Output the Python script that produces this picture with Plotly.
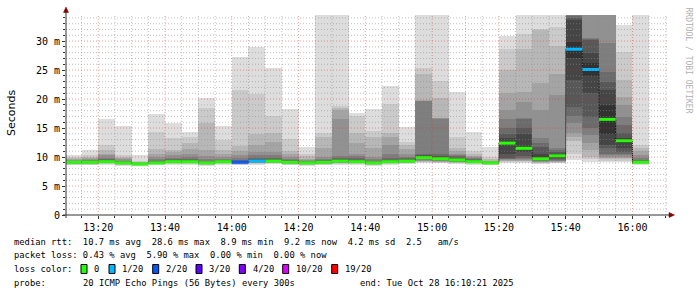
import plotly.graph_objects as go
import pandas as pd

# ---------------- data ----------------
bar_start = pd.date_range("2025-10-28 13:10:00", periods=35, freq="5min")

# 20 sorted ping RTTs (ms) per 5-minute step
pings = [
    [8.6,8.7,8.8,8.85,8.9,8.95,9.0,9.05,9.1,9.1,9.15,9.2,9.25,9.3,9.4,9.5,9.6,9.8,10.0,10.3],
    [8.6,8.7,8.8,8.85,8.9,8.95,9.0,9.05,9.1,9.1,9.15,9.2,9.3,9.4,9.5,9.6,9.8,10.0,10.4,11.2],
    [8.7,8.8,8.9,8.95,9.0,9.05,9.1,9.15,9.2,9.2,9.25,9.3,9.4,9.6,9.9,10.3,10.6,11.2,12.1,16.6],
    [8.5,8.6,8.7,8.75,8.8,8.85,8.9,8.95,9.0,9.0,9.05,9.1,9.2,9.3,9.4,9.6,9.8,10.0,10.3,15.3],
    [8.4,8.5,8.55,8.6,8.65,8.7,8.72,8.75,8.8,8.8,8.85,8.9,8.9,8.95,9.0,9.05,9.1,9.2,9.3,10.4],
    [8.6,8.7,8.75,8.8,8.85,8.9,8.95,9.0,9.0,9.0,9.05,9.1,9.2,9.4,9.7,10.0,10.6,11.4,14.3,17.4],
    [8.7,8.8,8.9,8.95,9.0,9.05,9.1,9.15,9.2,9.2,9.25,9.3,9.4,9.6,9.9,10.3,10.8,11.2,13.2,15.9],
    [8.7,8.8,8.9,8.95,9.0,9.05,9.1,9.15,9.2,9.2,9.25,9.35,9.5,9.7,10.0,10.5,11.4,12.5,13.5,14.3],
    [8.5,8.6,8.7,8.75,8.8,8.85,8.9,8.95,9.0,9.0,9.05,9.1,9.2,9.4,9.7,10.2,11.2,15.9,18.5,20.1],
    [8.7,8.8,8.9,8.95,9.0,9.05,9.1,9.15,9.2,9.2,9.25,9.3,9.4,9.5,9.7,10.0,10.5,11.2,12.9,15.3],
    [8.6,8.7,8.8,8.85,8.9,8.95,9.0,9.05,9.1,9.1,9.15,9.2,9.3,9.5,9.8,10.3,11.0,11.95,21.6,27.3],
    [8.7,8.8,8.9,9.0,9.05,9.1,9.15,9.2,9.25,9.3,9.35,9.45,9.6,9.9,10.3,10.8,12.1,14.0,20.9,29.0],
    [8.8,8.9,9.0,9.05,9.1,9.15,9.2,9.25,9.3,9.3,9.35,9.45,9.6,9.9,10.3,10.8,12.6,14.1,17.1,25.3],
    [8.6,8.7,8.8,8.85,8.9,8.95,9.0,9.05,9.1,9.1,9.15,9.2,9.3,9.45,9.65,10.05,10.5,11.1,13.1,18.3],
    [8.5,8.6,8.7,8.75,8.8,8.85,8.9,8.95,9.0,9.0,9.05,9.1,9.15,9.2,9.3,9.45,9.7,10.1,10.6,11.8],
    [8.6,8.7,8.8,8.85,8.9,8.95,9.0,9.05,9.1,9.1,9.15,9.2,9.3,9.45,9.65,10.05,11.5,13.5,14.1,36.0],
    [8.7,8.8,8.9,9.0,9.05,9.1,9.15,9.2,9.25,9.3,9.35,9.45,9.6,9.8,10.2,16.55,18.1,18.5,18.8,38.0],
    [8.7,8.8,8.9,8.95,9.0,9.05,9.1,9.15,9.2,9.2,9.25,9.35,9.5,9.8,10.2,10.6,12.5,14.2,17.1,17.6],
    [8.5,8.6,8.7,8.75,8.8,8.85,8.9,8.95,9.0,9.0,9.05,9.1,9.2,9.4,9.7,10.05,11.5,13.5,14.5,18.3],
    [8.7,8.8,8.9,8.95,9.0,9.05,9.1,9.15,9.2,9.2,9.25,9.35,9.5,9.8,10.6,12.1,13.5,14.2,19.1,22.2],
    [8.8,8.9,9.0,9.05,9.1,9.15,9.2,9.25,9.3,9.3,9.35,9.45,9.6,9.8,10.05,10.6,11.3,12.1,12.6,15.2],
    [9.0,9.1,9.2,9.3,9.4,9.5,9.6,9.65,9.7,9.8,10.0,10.1,10.3,10.6,19.6,19.7,19.8,24.4,25.3,40.0],
    [8.9,9.0,9.1,9.2,9.3,9.4,9.5,9.55,9.6,9.65,9.75,9.9,10.2,10.5,16.6,16.7,16.8,20.1,23.2,40.0],
    [8.8,8.9,9.0,9.1,9.15,9.2,9.3,9.35,9.4,9.45,9.55,9.7,9.9,10.2,10.4,10.6,11.0,11.5,13.5,21.2],
    [8.7,8.8,8.9,8.95,9.0,9.05,9.1,9.15,9.2,9.2,9.25,9.35,9.5,9.65,9.8,10.0,10.2,10.6,11.1,14.4],
    [8.6,8.7,8.75,8.8,8.85,8.9,8.95,8.98,9.0,9.0,9.02,9.05,9.1,9.15,9.2,9.3,9.4,9.6,10.0,11.8],
    [8.9,9.1,9.3,9.4,9.5,9.6,9.7,9.9,10.5,12.2,12.6,13.3,14.0,15.0,16.5,18.1,21.0,25.0,28.6,30.9],
    [8.9,9.1,9.3,9.4,9.5,9.6,9.8,10.2,10.8,11.3,11.7,14.0,15.0,16.5,16.7,19.5,21.3,28.7,31.3,40.0],
    [8.8,8.9,9.0,9.1,9.2,9.3,9.4,9.5,9.6,9.65,9.75,10.5,11.7,12.5,13.2,18.1,22.7,31.9,32.0,40.0],
    [8.9,9.0,9.1,9.2,9.3,9.4,9.5,9.7,9.9,10.1,10.3,10.6,10.9,11.2,11.5,20.7,24.4,29.1,32.5,40.0],
    [9.5,10.6,12.7,13.4,14.1,15.8,17.0,18.7,23.3,27.0,29.9,33.7,34.0,34.3,36.0,40.0,45.0,50.0,60.0,80.0],
    [9.2,9.6,10.05,11.2,12.4,13.8,15.0,16.9,21.0,24.0,26.2,28.0,30.2,30.3,30.5,38.0,42.0,48.0,55.0,70.0],
    [9.2,9.4,9.6,9.8,10.0,10.3,10.5,11.5,12.1,14.0,19.0,21.5,23.0,24.7,29.6,38.0,42.0,48.0,55.0,70.0],
    [9.2,9.4,9.6,9.8,10.0,10.3,10.6,10.9,11.5,12.5,13.1,13.3,14.1,15.5,16.9,19.0,20.4,23.3,28.2,32.8],
    [8.7,8.8,8.9,8.95,9.0,9.05,9.1,9.1,9.1,9.1,9.15,9.2,9.3,9.5,9.8,10.3,11.0,11.6,12.1,38.0],
]

median_ms = [9.1, 9.1, 9.2, 9.0, 8.8, 9.0, 9.2, 9.2, 9.0, 9.2,
             9.1, 9.3, 9.3, 9.1, 9.0, 9.1, 9.3, 9.2, 9.0, 9.2,
             9.3, 9.9, 9.7, 9.5, 9.2, 9.0, 12.4, 11.5, 9.7, 10.2,
             28.6, 25.1, 16.5, 12.8, 9.1]

loss = [0, 0, 0, 0, 0, 0, 0, 0, 0, 0,
        2, 1, 0, 0, 0, 0, 0, 0, 0, 0,
        0, 0, 0, 0, 0, 0, 0, 0, 0, 0,
        1, 1, 0, 0, 0]

loss_levels = [0, 1, 2, 3, 4, 10, 19]
loss_labels = ["0", "1/20", "2/20", "3/20", "4/20", "10/20", "19/20"]
loss_colors = ["#26ff00", "#00b8ff", "#0059ff", "#5e00ff", "#7e00ff", "#dd00ff", "#ff0000"]

y_tick_vals = [0, 5, 10, 15, 20, 25, 30]
y_tick_text = ["0", "5 m", "10 m", "15 m", "20 m", "25 m", "30 m"]

stats_lines = [
    "median rtt:  10.7 ms avg  28.6 ms max  8.9 ms min  9.2 ms now  4.2 ms sd  2.5   am/s",
    "packet loss: 0.43 % avg  5.90 % max  0.00 % min  0.00 % now",
]
probe_text = "20 ICMP Echo Pings (56 Bytes) every 300s"
end_text = "end: Tue Oct 28 16:10:21 2025"

# ---------------- geometry ----------------
W, H = 697, 297
L, R, T, B = 66, 667, 15, 215
x_start = pd.Timestamp("2025-10-28 13:10:21")
x_end = pd.Timestamp("2025-10-28 16:10:21")
Y_MAX = 34.5
step = pd.Timedelta(minutes=5)
step_ms = 300000


def px(x):
    return (x - L) / (R - L)


def py(y):
    return (B - y) / (B - T)


fig = go.Figure()

centers = [t + step / 2 for t in bar_start]
half = 10
for k in range(half):
    g = int(190 / half * (half - (k + 1))) + 50
    col = f"rgb({g},{g},{g})"
    lo = [p[k] for p in pings]
    hi = [p[19 - k] for p in pings]
    fig.add_trace(go.Bar(
        x=centers, base=lo, y=[h - l for h, l in zip(hi, lo)],
        width=step_ms, marker=dict(color=col, line=dict(width=0)),
        showlegend=False, hoverinfo="skip",
    ))

# thin step line joining medians
sx, sy = [], []
for t, m in zip(bar_start, median_ms):
    sx += [t, t + step]
    sy += [m, m]
fig.add_trace(go.Scatter(x=sx, y=sy, mode="lines",
                         line=dict(color="#000000", width=1, dash="1px,1px"),
                         showlegend=False, hoverinfo="skip"))

# coloured median segments by loss
for lvl, col in zip(loss_levels, loss_colors):
    xs, ys = [], []
    for t, m, ls in zip(bar_start, median_ms, loss):
        if ls == lvl:
            xs += [t, t + step, None]
            ys += [m, m, None]
    if xs:
        fig.add_trace(go.Scatter(x=xs, y=ys, mode="lines",
                                 line=dict(color=col, width=3),
                                 showlegend=False, hoverinfo="skip"))

shapes = []
minor_col = "rgba(140,140,140,0.55)"
major_col = "rgba(220,40,40,0.45)"
# vertical grid
t = pd.Timestamp("2025-10-28 13:15:00")
while t <= x_end:
    major = (t.minute % 20 == 0)
    shapes.append(dict(type="line", xref="x", yref="paper", x0=t, x1=t, y0=0, y1=1,
                       line=dict(color=major_col if major else minor_col, width=1, dash="1px,2px"),
                       layer="above"))
    t += step
# horizontal grid
for v in range(1, 35):
    major = (v % 5 == 0)
    shapes.append(dict(type="line", xref="paper", yref="y", x0=0, x1=1, y0=v, y1=v,
                       line=dict(color=major_col if major else minor_col, width=1, dash="1px,2px"),
                       layer="above"))

axis_col = "#333333"
arrow_col = "#7f0000"
# axis lines
shapes.append(dict(type="line", xref="paper", yref="paper", x0=px(63), x1=px(670), y0=0, y1=0,
                   line=dict(color=axis_col, width=1), layer="above"))
shapes.append(dict(type="line", xref="paper", yref="paper", x0=0, x1=0, y0=py(218), y1=py(10),
                   line=dict(color=axis_col, width=1), layer="above"))
# arrows
shapes.append(dict(type="path", xref="paper", yref="paper",
                   path=f"M {px(669)} {py(212.5)} L {px(674.5)} {py(215)} L {px(669)} {py(217.5)} Z",
                   fillcolor=arrow_col, line=dict(color=arrow_col, width=0.5), layer="above"))
shapes.append(dict(type="path", xref="paper", yref="paper",
                   path=f"M {px(63.5)} {py(12.5)} L {px(66)} {py(7)} L {px(68.5)} {py(12.5)} Z",
                   fillcolor=arrow_col, line=dict(color=arrow_col, width=0.5), layer="above"))

annotations = []
mono = "DejaVu Sans Mono"
NB = "\u00a0"


def txt(s, x, y, size=8.8, color="#000000", family=mono, angle=0, xanchor="left"):
    annotations.append(dict(text=s.replace(" ", NB), xref="paper", yref="paper",
                            x=px(x), y=py(y), xanchor=xanchor, yanchor="middle",
                            showarrow=False, textangle=angle,
                            font=dict(family=family, size=size, color=color)))


txt(stats_lines[0], 12.3, 241.7)
txt(stats_lines[1], 12.3, 255.3)
txt("loss color:", 12.3, 269)
box_x = [81, 109, 152.7, 196, 239.3, 282.7, 331.7]
for bx, lab, col in zip(box_x, loss_labels, loss_colors):
    shapes.append(dict(type="rect", xref="paper", yref="paper",
                       x0=px(bx), x1=px(bx + 6), y0=py(273.5), y1=py(264.5),
                       fillcolor=col, line=dict(color="#000000", width=1)))
    txt(lab, bx + 11.3, 269)
txt("probe:", 12.3, 282.7)
txt(probe_text, 80.7, 282.7)
txt(end_text, 358, 282.7)

# y-axis title
annotations.append(dict(text="Seconds", xref="paper", yref="paper", x=px(11.5), y=py(113.5),
                        xanchor="center", yanchor="middle", showarrow=False, textangle=-90,
                        font=dict(family="DejaVu Sans", size=11, color="#000000")))
# watermark
annotations.append(dict(text="RRDTOOL / TOBI OETIKER", xref="paper", yref="paper",
                        x=px(687.5), y=py(60), xanchor="center", yanchor="middle",
                        showarrow=False, textangle=90,
                        font=dict(family=mono, size=8, color="#b0b0b0")))

fig.update_layout(
    width=W, height=H, autosize=False,
    margin=dict(l=L, r=W - R, t=T, b=H - B, pad=0),
    paper_bgcolor="#ffffff", plot_bgcolor="#ffffff",
    barmode="overlay", bargap=0, showlegend=False,
    shapes=shapes, annotations=annotations,
    xaxis=dict(type="date", range=[x_start, x_end], showgrid=False, zeroline=False,
               showline=False, tickformat="%H:%M", tick0="2025-10-28 13:00:00",
               dtick=20 * 60 * 1000, ticks="outside", ticklen=3, tickcolor=axis_col,
               tickfont=dict(family=mono, size=10, color="#000000"),
               minor=dict(dtick=5 * 60 * 1000, ticks="outside", ticklen=2, tickcolor=axis_col,
                          showgrid=False)),
    yaxis=dict(range=[0, Y_MAX], showgrid=False, zeroline=False, showline=False,
               tickvals=y_tick_vals, ticktext=y_tick_text, ticks="outside", ticklen=3,
               tickcolor=axis_col, tickfont=dict(family=mono, size=10, color="#000000"),
               minor=dict(dtick=1, ticks="outside", ticklen=2, tickcolor=axis_col, showgrid=False)),
)

fig.write_html("out.html")
